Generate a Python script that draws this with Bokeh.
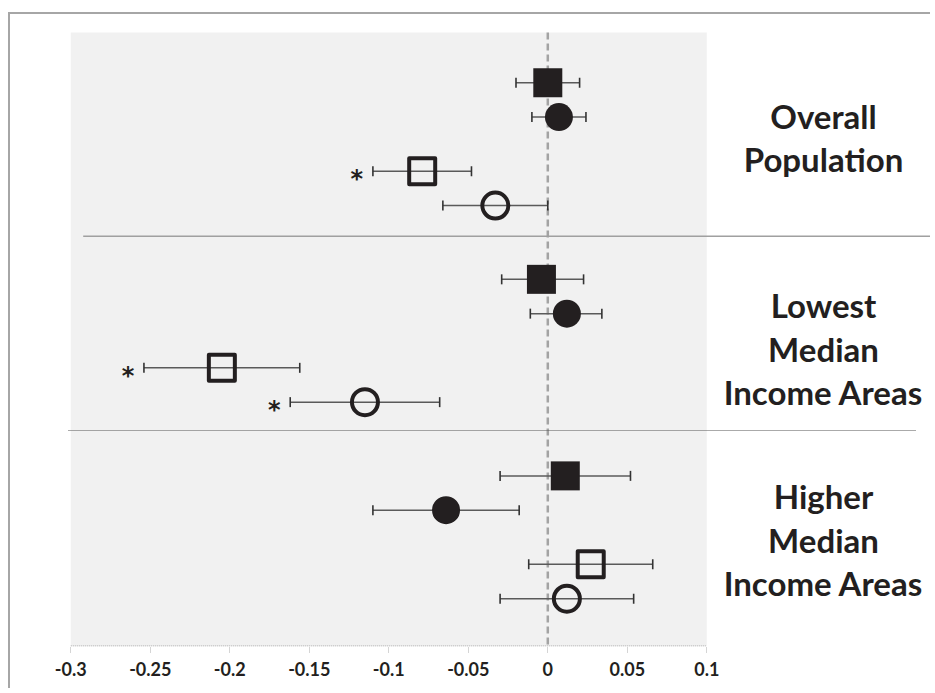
from bokeh.plotting import figure
from bokeh.models import Range1d, FixedTicker, Whisker, TeeHead, ColumnDataSource
from bokeh.core.properties import value
from bokeh.embed import file_html
from bokeh.resources import INLINE

# ---------------- data ----------------
groups = ["Overall\nPopulation", "Lowest\nMedian\nIncome Areas", "Higher\nMedian\nIncome Areas"]

fs_est = [0.000, -0.004, 0.011]
fs_lo = [-0.020, -0.029, -0.030]
fs_hi = [0.020, 0.0225, 0.052]

fc_est = [0.007, 0.012, -0.064]
fc_lo = [-0.010, -0.011, -0.110]
fc_hi = [0.024, 0.034, -0.018]

os_est = [-0.079, -0.205, 0.027]
os_lo = [-0.110, -0.254, -0.012]
os_hi = [-0.048, -0.156, 0.066]

oc_est = [-0.033, -0.115, 0.012]
oc_lo = [-0.066, -0.162, -0.030]
oc_hi = [0.000, -0.068, 0.054]

fs_sig = [False, False, False]
fc_sig = [False, False, False]
os_sig = [True, True, False]
oc_sig = [False, True, False]

tick_values = [-0.3, -0.25, -0.2, -0.15, -0.1, -0.05, 0, 0.05, 0.1]
tick_labels = ["-0.3", "-0.25", "-0.2", "-0.15", "-0.1", "-0.05", "0", "0.05", "0.1"]

# ---------------- layout ----------------
W, H = 922, 676
FRAME_LEFT_PAGE = 10
FRAME_TOP_PAGE = 14
AXIS_PAGE = 646
PX_PER_X = 1590.0
X0_PAGE = 547.3
ROW_PX = 34.3
ROW0_PAGE = 82.3
row_offsets = [0.0, 1.0, 2.58, 3.58]
group_step = 5.73


def px_to_x(px):
    return (px - X0_PAGE) / PX_PER_X


def py_to_y(py):
    return (py - ROW0_PAGE) / ROW_PX


x_start = px_to_x(FRAME_LEFT_PAGE)
x_end = x_start + W / PX_PER_X
y_top = py_to_y(FRAME_TOP_PAGE)
y_bot = py_to_y(AXIS_PAGE)

p = figure(width=W, height=H, output_backend="svg", toolbar_location=None,
           x_range=Range1d(x_start, x_end), y_range=Range1d(y_bot, y_top),
           y_axis_location=None, min_border_left=0, min_border_right=0,
           min_border_top=0, min_border_bottom=H - (AXIS_PAGE - FRAME_TOP_PAGE),
           styles={"border-left": "2px solid #a6a6a6", "border-top": "2px solid #a6a6a6",
                   "position": "relative", "left": "8px", "top": "12px"})
p.outline_line_color = None
p.grid.visible = False
p.background_fill_color = "white"
p.border_fill_color = "white"

INK = "#231f20"

# shaded plot area
shade_top = py_to_y(32)
p.quad(left=[tick_values[0]], right=[tick_values[-1]], top=[shade_top], bottom=[y_bot],
       fill_color="#f1f1f1", line_color=None, level="image")

# zero reference line
p.segment(x0=[0], x1=[0], y0=[shade_top], y1=[y_bot], line_color="#a3a3a3",
          line_width=2.5, line_dash="7 4", level="underlay")

# group separators
p.segment(x0=[px_to_x(82.7)], x1=[px_to_x(932)], y0=[py_to_y(235.7)], y1=[py_to_y(235.7)],
          line_color="#a0a0a0", line_width=1.5, level="underlay")
p.segment(x0=[px_to_x(68)], x1=[px_to_x(915)], y0=[py_to_y(430)], y1=[py_to_y(430)],
          line_color="#555555", line_width=1, line_dash="1 1", level="underlay")

# bottom axis line (dotted, only under the shaded area)
p.segment(x0=[tick_values[0]], x1=[tick_values[-1]], y0=[py_to_y(645.5)], y1=[py_to_y(645.5)],
          line_color="#9a9a9a", line_width=1, line_dash="1 1", level="underlay")

series = [
    (fs_est, fs_lo, fs_hi, fs_sig, dict(marker="square", size=29, fill_color=INK, line_color=None)),
    (fc_est, fc_lo, fc_hi, fc_sig, dict(marker="circle", size=28, fill_color=INK, line_color=None)),
    (os_est, os_lo, os_hi, os_sig, dict(marker="square", size=26, fill_color=None, line_color=INK,
                                        line_width=4, line_join="round")),
    (oc_est, oc_lo, oc_hi, oc_sig, dict(marker="circle", size=26, fill_color=None, line_color=INK,
                                        line_width=4)),
]

for k, (est, lo, hi, sig, style) in enumerate(series):
    ys = [g * group_step + row_offsets[k] for g in range(len(groups))]
    src = ColumnDataSource(dict(x=est, lo=lo, hi=hi, y=ys))
    wh = Whisker(base="y", lower="lo", upper="hi", dimension="width", source=src,
                 line_color="#5a5a5a", line_width=1.5, level="underlay",
                 lower_head=TeeHead(size=10, line_color="#333333", line_width=1.6),
                 upper_head=TeeHead(size=10, line_color="#333333", line_width=1.6))
    p.add_layout(wh)
    p.scatter(x="x", y="y", source=src, **style)
    sx = [lo[g] for g in range(len(groups)) if sig[g]]
    sy = [ys[g] for g in range(len(groups)) if sig[g]]
    if sx:
        p.text(x=sx, y=sy, text=["*"] * len(sx), text_font=value("DejaVu Sans"),
               text_font_style="bold", text_font_size="24px", text_color=INK,
               text_align="center", text_baseline="middle", x_offset=-16, y_offset=8)

# group labels on the right
label_mid_page = [137, 348, 539]
line_step = 43.5 / ROW_PX
lx, ly, lt = [], [], []
for g, name in enumerate(groups):
    lines = name.split("\n")
    n = len(lines)
    for j, ln in enumerate(lines):
        lx.append(px_to_x(823))
        ly.append(py_to_y(label_mid_page[g]) + (j - (n - 1) / 2) * line_step)
        lt.append(ln)
p.text(x=lx, y=ly, text=lt, text_font=value("Lato"), text_font_style="bold",
       text_font_size="33px", text_color=INK, text_align="center", text_baseline="alphabetic")

# x axis
ax = p.xaxis[0]
ax.ticker = FixedTicker(ticks=tick_values)
ax.major_label_overrides = {v: s for v, s in zip(tick_values, tick_labels)}
ax.axis_line_color = None
ax.major_tick_in = 0
ax.major_tick_out = 6
ax.major_tick_line_color = "#aaaaaa"
ax.major_tick_line_dash = "1 1"
ax.minor_tick_line_color = None
ax.major_label_text_font = "Lato"
ax.major_label_text_font_style = "bold"
ax.major_label_text_font_size = "18px"
ax.major_label_text_color = INK
ax.major_label_standoff = 9

open("out.html", "w").write(file_html(p, INLINE))
